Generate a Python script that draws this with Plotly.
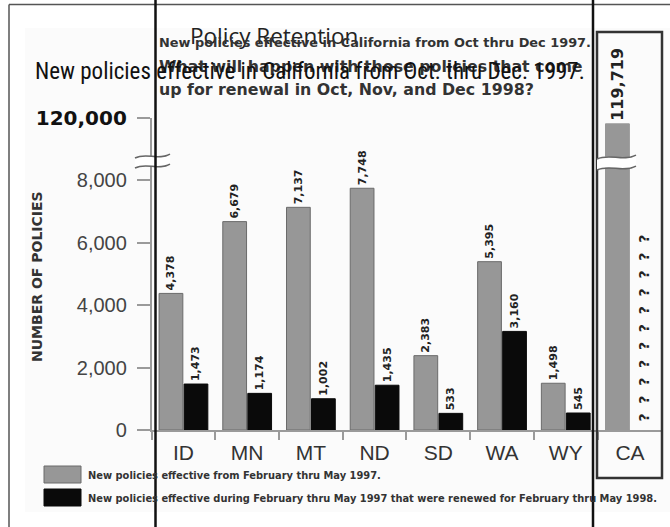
import plotly.graph_objects as go

# ---------------- data ----------------
states = ["ID", "MN", "MT", "ND", "SD", "WA", "WY"]
new_policies = [4378, 6679, 7137, 7748, 2383, 5395, 1498]
renewed = [1473, 1174, 1002, 1435, 533, 3160, 545]
ca_state = ["CA"]
ca_new = [119719]
ca_renewed = [None]
y_tick_vals = [0, 2000, 4000, 6000, 8000, 10000]
y_tick_text = ["0", "2,000", "4,000", "6,000", "8,000", "120,000"]
legend_labels = [
    "New policies effective from February thru May 1997.",
    "New policies effective during February thru May 1997 that were renewed for February thru May 1998.",
]
scan_lines = [
    "New policies effective in California from Oct thru Dec 1997.",
    "What will happen with those policies that come",
    "up for renewal in Oct, Nov, and Dec 1998?",
]

W, H = 670, 527
def px(x):
    return x / W
def py(y):
    return 1 - y / H

GRAY = "#979797"
GRAY_LINE = "#6b6b6b"
BLACK = "#0a0a0a"
AX = "#9a9a9a"

label_font = dict(family="DejaVu Sans", size=11, color="#222", weight="bold")

fig = go.Figure()
fig.add_trace(go.Bar(
    x=states, y=new_policies, name=legend_labels[0],
    marker=dict(color=GRAY, line=dict(color=GRAY_LINE, width=1)),
    text=[f"{v:,}" for v in new_policies], textposition="outside", textangle=-90,
    textfont=label_font, cliponaxis=False, constraintext="none",
    xaxis="x", yaxis="y", showlegend=False))
fig.add_trace(go.Bar(
    x=states, y=renewed, name=legend_labels[1],
    marker=dict(color=BLACK, line=dict(color=BLACK, width=1)),
    text=[f"{v:,}" for v in renewed], textposition="outside", textangle=-90,
    textfont=label_font, cliponaxis=False, constraintext="none",
    xaxis="x", yaxis="y", showlegend=False))
fig.add_trace(go.Bar(
    x=ca_state, y=ca_new,
    marker=dict(color=GRAY, line=dict(color=GRAY, width=1)),
    text=[f"{v:,}" for v in ca_new], textposition="outside", textangle=-90,
    textfont=dict(family="DejaVu Sans", size=16, color="#222", weight="bold"),
    cliponaxis=False, constraintext="none",
    xaxis="x2", yaxis="y2", showlegend=False))
fig.add_trace(go.Bar(
    x=ca_state, y=ca_renewed,
    marker=dict(color=BLACK),
    xaxis="x2", yaxis="y2", showlegend=False))

Y0_PX, YTOP_PX = 430, 118
Y2_MAX = 122000
xdom = [px(151.6), px(597.6)]
ydom = [py(Y0_PX), py(YTOP_PX)]

xcommon = dict(type="category", showline=True, linecolor=AX, linewidth=1.5,
               ticks="outside", tickson="boundaries", ticklen=8, tickcolor=AX,
               tickwidth=1.5, showgrid=False, zeroline=False, automargin=False,
               ticklabelstandoff=3,
               tickfont=dict(family="Liberation Sans", size=21, color="#333"))

fig.update_layout(
    width=W, height=H, margin=dict(l=0, r=0, t=0, b=0, pad=0), autosize=False,
    paper_bgcolor="white", plot_bgcolor="rgba(0,0,0,0)",
    barmode="group", bargap=0.215, bargroupgap=0.05, showlegend=False,
    xaxis=dict(domain=xdom, anchor="y", **xcommon),
    yaxis=dict(domain=ydom, anchor="x", range=[0, 10000], showline=True,
               linecolor=AX, linewidth=1.5, ticks="outside", ticklen=13,
               tickcolor=AX, tickwidth=1.5, showgrid=False, zeroline=False,
               automargin=False, tickvals=y_tick_vals,
               ticktext=y_tick_text[:-1] + [
                   "<b><span style='font-family:DejaVu Sans;color:#111'>" + y_tick_text[-1] + "</span></b>"],
               ticklabelstandoff=6,
               tickfont=dict(family="Liberation Sans", size=20, color="#444")),
    xaxis2=dict(domain=[px(598), px(662)], anchor="y2", **xcommon),
    yaxis2=dict(domain=ydom, anchor="x2", range=[0, Y2_MAX], visible=False, automargin=False),
    title=dict(text="Policy Retention", x=px(190), xanchor="left", xref="paper",
               y=py(36), yanchor="middle", yref="paper", automargin=False,
               font=dict(family="Open Sans", size=22.5, color="#222")),
)

shapes = []
shapes.append(dict(type="rect", xref="paper", yref="paper", x0=px(25), x1=px(670),
                   y0=py(512), y1=py(28), fillcolor="#fbfbfb", line=dict(width=0), layer="below"))
shapes.append(dict(type="rect", xref="paper", yref="paper", x0=px(597), x1=px(662),
                   y0=py(478), y1=py(32), line=dict(color="#333", width=2.5)))

def squiggle(x0, x1, ytop, gap, amp):
    xm1 = x0 + (x1 - x0) * 0.33
    xm2 = x0 + (x1 - x0) * 0.66
    def P(x, y):
        return f"{px(x):.5f},{py(y):.5f}"
    up = f"M {P(x0, ytop + amp)} C {P(xm1, ytop - amp)} {P(xm2, ytop + 2*amp)} {P(x1, ytop - amp*0.3)}"
    lo_y = ytop + gap
    lo = f"M {P(x0, lo_y + amp)} C {P(xm1, lo_y - amp)} {P(xm2, lo_y + 2*amp)} {P(x1, lo_y - amp*0.3)}"
    fill = (f"M {P(x0, ytop + amp)} C {P(xm1, ytop - amp)} {P(xm2, ytop + 2*amp)} {P(x1, ytop - amp*0.3)} "
            f"L {P(x1, lo_y - amp*0.3)} C {P(xm2, lo_y + 2*amp)} {P(xm1, lo_y - amp)} {P(x0, lo_y + amp)} Z")
    return [
        dict(type="path", xref="paper", yref="paper", path=fill, fillcolor="white", line=dict(width=0)),
        dict(type="path", xref="paper", yref="paper", path=up, line=dict(color="#666", width=1.5)),
        dict(type="path", xref="paper", yref="paper", path=lo, line=dict(color="#666", width=1.5)),
    ]

shapes += squiggle(135, 170, 155, 10, 3)
shapes += squiggle(597, 636, 156, 11, 3)

shapes.append(dict(type="line", xref="paper", yref="paper", x0=px(9), x1=px(670),
                   y0=py(4.5), y1=py(4.5), line=dict(color="#555", width=1.5)))
shapes.append(dict(type="line", xref="paper", yref="paper", x0=px(9), x1=px(9),
                   y0=py(4.5), y1=py(527), line=dict(color="#555", width=1.5)))
shapes.append(dict(type="line", xref="paper", yref="paper", x0=px(155.5), x1=px(155.5),
                   y0=0, y1=1, line=dict(color="#111", width=2.5)))
shapes.append(dict(type="line", xref="paper", yref="paper", x0=px(593), x1=px(593),
                   y0=0, y1=1, line=dict(color="#111", width=2.5)))

shapes.append(dict(type="rect", xref="paper", yref="paper", x0=px(44), x1=px(81),
                   y0=py(483), y1=py(466), fillcolor=GRAY, line=dict(color=GRAY_LINE, width=1)))
shapes.append(dict(type="rect", xref="paper", yref="paper", x0=px(44), x1=px(81),
                   y0=py(506), y1=py(489), fillcolor=BLACK, line=dict(color=BLACK, width=1)))

annotations = []
for txt, yy, sz in zip(scan_lines, [42, 66, 89], [12.9, 15.8, 15.8]):
    annotations.append(dict(text=txt, xref="paper", yref="paper", x=px(157), y=py(yy),
                            xanchor="left", yanchor="middle", showarrow=False,
                            font=dict(family="DejaVu Sans", size=sz, color="#333", weight="bold")))
annotations.append(dict(text="New policies effective in California from Oct. thru Dec. 1997.",
                        xref="paper", yref="paper", x=px(33), y=py(71),
                        xanchor="left", yanchor="middle", showarrow=False,
                        font=dict(family="Roboto Condensed, DejaVu Sans Condensed, Liberation Sans Narrow, Liberation Sans",
                                  size=23, color="#111")))
annotations.append(dict(text="NUMBER OF POLICIES", xref="paper", yref="paper", x=px(37), y=py(277),
                        xanchor="center", yanchor="middle", textangle=-90, showarrow=False,
                        font=dict(family="DejaVu Sans", size=14, color="#333", weight="bold")))
q_center_val = (Y0_PX - 328.5) / (Y0_PX - YTOP_PX) * Y2_MAX
annotations.append(dict(text="\u00a0\u00a0".join(["?"] * 11), xref="x2", yref="y2", x="CA", y=q_center_val,
                        xshift=13, xanchor="center", yanchor="middle", textangle=-90,
                        showarrow=False,
                        font=dict(family="DejaVu Sans", size=14, color="#222", weight="bold")))
leg_font = dict(family="DejaVu Sans", size=9.9, color="#333", weight="bold")
for txt, yy in zip(legend_labels, [475, 498]):
    annotations.append(dict(text=txt, xref="paper", yref="paper", x=px(86), y=py(yy),
                            xanchor="left", yanchor="middle", showarrow=False, font=leg_font))

fig.update_layout(shapes=shapes, annotations=annotations)
fig.write_html("out.html")
